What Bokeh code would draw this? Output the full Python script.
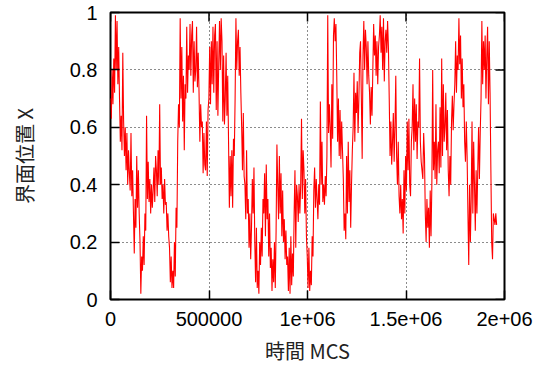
import numpy as np
from bokeh.plotting import figure
from bokeh.models import FixedTicker, Range1d
from bokeh.embed import file_html
from bokeh.resources import INLINE

# ---- data ----
x_start = 0
x_end = 1.96e6
interface_x = [
    # 0 .. ~0.49e6
    0.70, 0.63, 0.80, 0.68, 0.84, 0.72, 0.99, 0.80, 0.97, 0.75, 0.88, 0.70,
    0.55, 0.64, 0.52, 0.86, 0.62, 0.50, 0.60, 0.45, 0.58, 0.40, 0.52, 0.44,
    0.38, 0.58, 0.36, 0.45, 0.30, 0.16, 0.35, 0.25, 0.50, 0.32, 0.45, 0.30,
    0.20, 0.02, 0.15, 0.10, 0.22, 0.12, 0.30, 0.24, 0.64, 0.35, 0.48, 0.34,
    0.42, 0.30, 0.40, 0.32, 0.38, 0.46, 0.34, 0.50, 0.45, 0.36, 0.52, 0.40,
    0.68, 0.40, 0.46, 0.35, 0.40, 0.30, 0.42, 0.33, 0.34, 0.24, 0.30, 0.22,
    0.18, 0.06, 0.15, 0.04, 0.10, 0.04, 0.20, 0.08, 0.32, 0.25, 0.55, 0.68,
    0.60, 0.98, 0.70, 0.88, 0.62, 0.78, 0.52, 0.75, 0.70, 0.95, 0.72, 0.85,
    0.80, 0.96, 0.78, 0.92, 0.97, 0.72, 0.90, 0.76, 0.80, 0.95, 0.74, 0.86,
    0.72, 0.55, 0.68, 0.60, 0.62, 0.44, 0.58, 0.47,
    # ~0.49e6 .. ~1.0e6
    0.45, 0.62, 0.43, 0.66, 0.70, 0.88, 0.68, 0.90, 0.75, 0.95, 0.72, 0.92,
    0.96, 0.66, 0.90, 0.64, 0.82, 0.97, 0.80, 0.98, 0.90, 0.62, 0.85, 0.61,
    0.70, 0.86, 0.64, 0.78, 0.55, 0.32, 0.50, 0.36, 0.52, 0.32, 0.56, 0.50,
    0.70, 0.98, 0.80, 0.90, 0.94, 0.78, 0.88, 0.72, 0.60, 0.45, 0.65, 0.43,
    0.40, 0.28, 0.52, 0.30, 0.35, 0.18, 0.30, 0.14, 0.25, 0.42, 0.30, 0.46,
    0.20, 0.06, 0.25, 0.04, 0.10, 0.02, 0.20, 0.12, 0.25, 0.15, 0.35, 0.30,
    0.44, 0.22, 0.47, 0.28, 0.35, 0.15, 0.30, 0.11, 0.18, 0.03, 0.14, 0.06,
    0.20, 0.04, 0.24, 0.54, 0.40, 0.28, 0.50, 0.30, 0.44, 0.22, 0.38, 0.20,
    0.28, 0.14, 0.24, 0.12, 0.15, 0.03, 0.18, 0.02, 0.22, 0.05, 0.16, 0.08,
    0.30, 0.45, 0.18, 0.40, 0.36, 0.27, 0.40, 0.30, 0.40, 0.63, 0.35, 0.52,
    # ~1.0e6 .. ~1.49e6
    0.45, 0.30, 0.42, 0.22, 0.15, 0.04, 0.18, 0.03, 0.10, 0.05, 0.22, 0.15,
    0.38, 0.46, 0.32, 0.42, 0.35, 0.28, 0.40, 0.33, 0.69, 0.40, 0.55, 0.34,
    0.40, 0.33, 0.43, 0.36, 0.50, 0.99, 0.58, 0.68, 0.60, 0.46, 0.75, 0.56,
    0.92, 0.98, 0.90, 0.96, 0.78, 0.55, 0.70, 0.50, 0.66, 0.49, 0.62, 0.52,
    0.42, 0.24, 0.30, 0.21, 0.50, 0.30, 0.55, 0.34, 0.45, 0.25, 0.40, 0.52,
    0.60, 0.79, 0.55, 0.72, 0.65, 0.76, 0.58, 0.70, 0.86, 0.90, 0.70, 0.49,
    0.85, 0.97, 0.80, 0.94, 0.88, 0.75, 0.90, 0.78, 0.72, 0.61, 0.74, 0.64,
    0.80, 0.96, 0.85, 0.92, 0.78, 0.90, 0.75, 0.88, 0.92, 0.99, 0.86, 0.95,
    0.80, 0.98, 0.76, 0.90, 0.94, 0.86, 0.97, 0.88, 0.70, 0.50, 0.62, 0.47,
    0.55, 0.65, 0.48, 0.60, 0.78, 0.50, 0.40, 0.55, 0.36, 0.30, 0.40, 0.28,
    # ~1.49e6 .. 1.96e6
    0.35, 0.23, 0.45, 0.30, 0.50, 0.38, 0.62, 0.45, 0.63, 0.40, 0.36, 0.55,
    0.60, 0.75, 0.52, 0.70, 0.55, 0.68, 0.49, 0.62, 0.60, 0.84, 0.55, 0.48,
    0.45, 0.42, 0.58, 0.50, 0.30, 0.20, 0.35, 0.25, 0.32, 0.18, 0.38, 0.22,
    0.40, 0.80, 0.45, 0.55, 0.42, 0.68, 0.40, 0.52, 0.55, 0.44, 0.67, 0.46,
    0.84, 0.50, 0.75, 0.55, 0.60, 0.72, 0.52, 0.66, 0.45, 0.36, 0.50, 0.40,
    0.62, 0.71, 0.59, 0.68, 0.75, 0.90, 0.72, 0.85, 0.80, 0.98, 0.82, 0.92,
    0.70, 0.84, 0.67, 0.75, 0.55, 0.48, 0.62, 0.50, 0.30, 0.12, 0.40, 0.20,
    0.35, 0.62, 0.30, 0.55, 0.40, 0.24, 0.45, 0.30, 0.45, 0.60, 0.42, 0.58,
    0.70, 0.97, 0.75, 0.90, 0.80, 0.92, 0.70, 0.85, 0.95, 0.68, 0.90, 0.72,
    0.45, 0.20, 0.14, 0.30, 0.28, 0.26, 0.30, 0.26,
]
mcs = np.linspace(x_start, x_end, len(interface_x))

x_ticks = [0, 500000, 1000000, 1500000, 2000000]
x_tick_labels = ["0", "500000", "1e+06", "1.5e+06", "2e+06"]
y_ticks = [0, 0.2, 0.4, 0.6, 0.8, 1.0]
y_tick_labels = ["0", "0.2", "0.4", "0.6", "0.8", "1"]
x_label = "時間 MCS"
y_label = "界面位置 X"

TICK_FONT = "Liberation Sans"
LABEL_FONT = "Noto Sans CJK JP"

W, H = 545, 369
BL, BR, BT, BB = 110, 41, 12, 70
X0, X1, Y0, Y1 = 0, 2e6, 0, 1
TICK_PX = 9

p = figure(width=W, height=H, output_backend="svg", toolbar_location=None,
           x_range=Range1d(X0, X1), y_range=Range1d(Y0, Y1),
           min_border_left=BL, min_border_right=BR,
           min_border_top=BT, min_border_bottom=BB)

p.background_fill_color = "white"
p.border_fill_color = "white"
p.outline_line_color = "black"
p.outline_line_width = 2

for g, t in ((p.xgrid[0], x_ticks), (p.ygrid[0], y_ticks)):
    g.ticker = FixedTicker(ticks=t)
    g.grid_line_color = "black"
    g.grid_line_dash = "1 3"
    g.grid_line_width = 1
    g.grid_line_alpha = 0.9

p.line(mcs, interface_x, line_color="#ff0000", line_width=1.1)

# mirrored inward ticks on the top and right edges (gnuplot style)
frame_w = W - BL - BR
frame_h = H - BT - BB
dy = TICK_PX / frame_h * (Y1 - Y0)
dx = TICK_PX / frame_w * (X1 - X0)
p.segment(x0=x_ticks, y0=[Y1] * len(x_ticks), x1=x_ticks,
          y1=[Y1 - dy] * len(x_ticks), line_color="black", line_width=1.5)
p.segment(x0=[X1] * len(y_ticks), y0=y_ticks, x1=[X1 - dx] * len(y_ticks),
          y1=y_ticks, line_color="black", line_width=1.5)

xo = {t: l for t, l in zip(x_ticks, x_tick_labels)}
yo = {t: l for t, l in zip(y_ticks, y_tick_labels)}

def style(ax, ticks, overrides):
    ax.ticker = FixedTicker(ticks=ticks)
    ax.axis_line_color = None
    ax.major_tick_in = TICK_PX
    ax.major_tick_out = 0
    ax.major_tick_line_width = 1.5
    ax.major_tick_line_color = "black"
    ax.minor_tick_line_color = None
    ax.major_label_overrides = overrides
    ax.major_label_text_font = TICK_FONT
    ax.major_label_text_color = "black"
    ax.major_label_text_font_size = "20px"
    ax.axis_label_text_font = LABEL_FONT
    ax.axis_label_text_font_size = "20px"
    ax.axis_label_text_font_style = "normal"
    ax.axis_label_text_color = "#222222"

xa = p.xaxis[0]
style(xa, x_ticks, xo)
xa.major_label_standoff = 12
xa.axis_label = x_label
xa.axis_label_standoff = 7

ya = p.yaxis[0]
style(ya, y_ticks, yo)
ya.major_label_standoff = 13
ya.axis_label = y_label
ya.axis_label_standoff = 28

open("out.html", "w").write(file_html(p, INLINE))
